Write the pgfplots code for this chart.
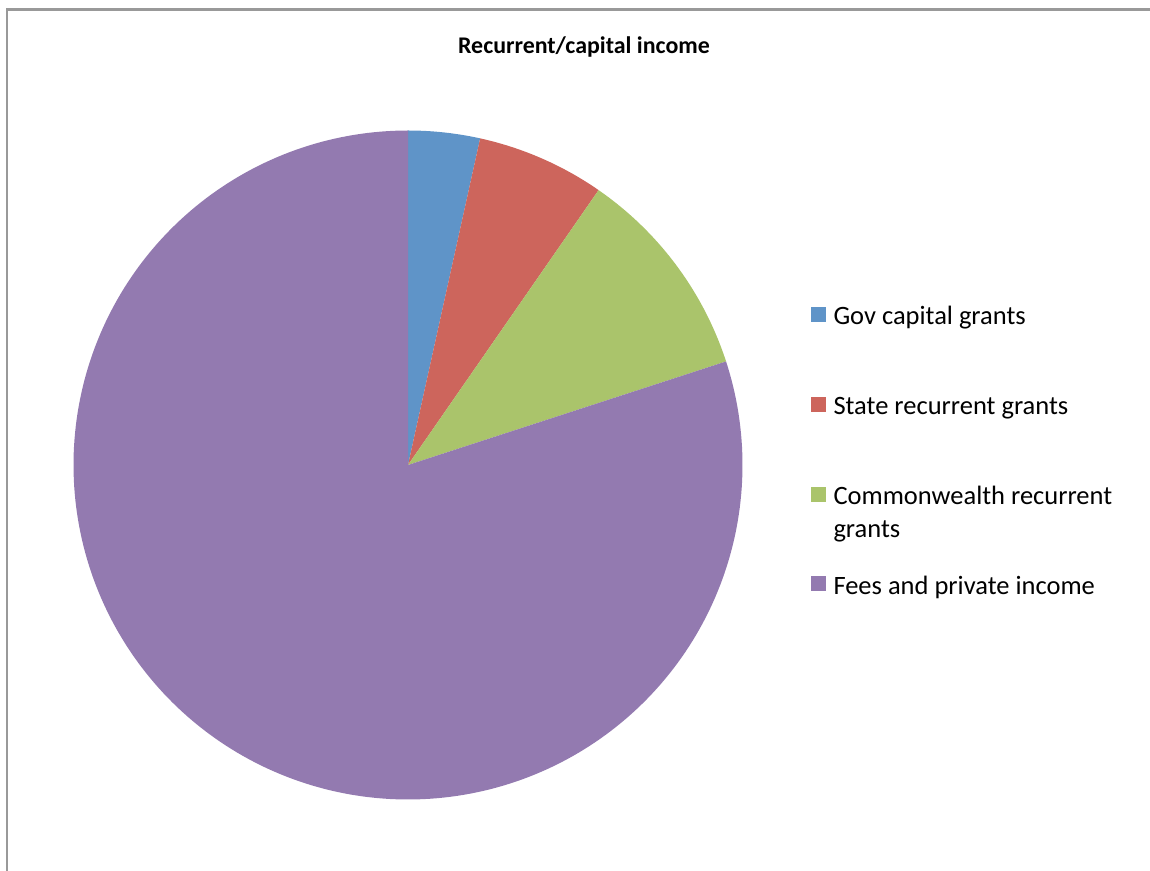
\documentclass[border=0pt]{standalone}
\usepackage{pgfplots}
\usepackage{pgfplotstable}
\pgfplotsset{compat=1.18}
\usepackage{fontspec}
\setmainfont{Carlito}
\definecolor{pieblue}{RGB}{95,148,200}
\definecolor{piered}{RGB}{205,101,92}
\definecolor{piegreen}{RGB}{170,196,107}
\definecolor{piepurple}{RGB}{147,122,176}
\definecolor{framegray}{RGB}{153,153,153}

% shares of income (per cent)
\pgfplotstableread{
label value
Gov 3.46
State 6.19
Commonwealth 10.34
Fees 80.01
}\piedata

\pgfplotstablegetelem{0}{value}\of\piedata \let\vA\pgfplotsretval
\pgfplotstablegetelem{1}{value}\of\piedata \let\vB\pgfplotsretval
\pgfplotstablegetelem{2}{value}\of\piedata \let\vC\pgfplotsretval
\pgfplotstablegetelem{3}{value}\of\piedata \let\vD\pgfplotsretval
\pgfmathsetmacro\tot{\vA+\vB+\vC+\vD}
\pgfmathsetmacro\aA{360*\vA/\tot}
\pgfmathsetmacro\aB{\aA+360*\vB/\tot}
\pgfmathsetmacro\aC{\aB+360*\vC/\tot}

\begin{document}
\begin{tikzpicture}
\begin{axis}[
  at={(0,0)}, anchor=south west,
  scale only axis, width=1150bp, height=871bp,
  xmin=0, xmax=1150, ymin=0, ymax=871,
  hide axis,
  clip=false,
  legend image code/.code={\fill[#1] (0bp,3bp) rectangle (15bp,18bp);},
  legend style={
    draw=none, fill=none, inner sep=0pt, outer sep=0pt,
    at={(axis description cs:0.70522,0.64983)}, anchor=north west,
    row sep=66.3bp, column sep=5.5bp,
    font=\fontsize{26.6}{33}\selectfont,
    cells={anchor=base west, inner sep=0pt, text height=18bp, text depth=6bp},
  },
]
\addplot[fill=pieblue, draw=none, domain=0:\aA, samples=30]
  ({408+334.5*sin(x)},{406+334.5*cos(x)}) -- (axis cs:408,406) -- cycle;
\addlegendentry{Gov capital grants}
\addplot[fill=piered, draw=none, domain=\aA:\aB, samples=40]
  ({408+334.5*sin(x)},{406+334.5*cos(x)}) -- (axis cs:408,406) -- cycle;
\addlegendentry{State recurrent grants}
\addplot[fill=piegreen, draw=none, domain=\aB:\aC, samples=50]
  ({408+334.5*sin(x)},{406+334.5*cos(x)}) -- (axis cs:408,406) -- cycle;
\addlegendentry{\begin{tabular}[t]{@{}l@{}}Commonwealth recurrent\\grants\end{tabular}}
\addplot[fill=piepurple, draw=none, domain=\aC:360, samples=250]
  ({408+334.5*sin(x)},{406+334.5*cos(x)}) -- (axis cs:408,406) -- cycle;
\addlegendentry{Fees and private income}

\node[font=\bfseries\fontsize{24}{28}\selectfont, anchor=base] at (axis cs:584,817) {Recurrent/capital income};
\end{axis}
\draw[framegray, line width=2.5bp] (7bp,-20bp) -- (7bp,861.5bp) -- (1170bp,861.5bp);
\pgfresetboundingbox
\useasboundingbox (0,0) rectangle (1150bp,871bp);
\end{tikzpicture}
\end{document}
